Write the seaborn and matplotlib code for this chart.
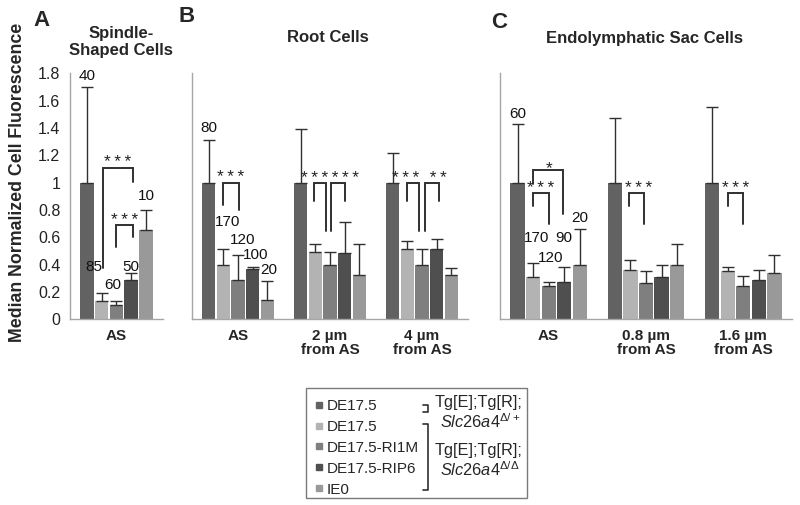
import numpy as np
import pandas as pd
import seaborn as sns
import matplotlib.pyplot as plt
from matplotlib.lines import Line2D
from matplotlib.patches import Rectangle

sns.set_theme(style="white")
plt.rcParams['font.family'] = ['Liberation Sans', 'DejaVu Sans']
plt.rcParams['mathtext.fontset'] = 'custom'
plt.rcParams['mathtext.it'] = 'Liberation Sans:italic'
plt.rcParams['mathtext.rm'] = 'Liberation Sans'

# Data
genotypes = ["het DE17.5", "DE17.5", "DE17.5-RI1M", "DE17.5-RIP6", "IE0"]
legend_labels = ["DE17.5", "DE17.5", "DE17.5-RI1M", "DE17.5-RIP6", "IE0"]
colors = ["#626262", "#b3b3b3", "#7f7f7f", "#4f4f4f", "#999999"]

spindle_locs = ["AS"]
spindle_vals = [[1.0, 0.13, 0.10, 0.29, 0.65]]
spindle_errs = [[0.70, 0.06, 0.03, 0.05, 0.15]]
spindle_n = [40, 85, 60, 50, 10]

root_locs = ["AS", "2 µm\nfrom AS", "4 µm\nfrom AS"]
root_vals = [[1.0, 0.40, 0.29, 0.37, 0.14],
             [1.0, 0.49, 0.40, 0.485, 0.32],
             [1.0, 0.51, 0.40, 0.51, 0.32]]
root_errs = [[0.31, 0.11, 0.18, 0.015, 0.14],
             [0.39, 0.06, 0.09, 0.225, 0.23],
             [0.215, 0.06, 0.11, 0.075, 0.055]]
root_n = [80, 170, 120, 100, 20]

sac_locs = ["AS", "0.8 µm\nfrom AS", "1.6 µm\nfrom AS"]
sac_vals = [[1.0, 0.31, 0.24, 0.27, 0.40],
            [1.0, 0.36, 0.265, 0.31, 0.40],
            [1.0, 0.35, 0.245, 0.29, 0.34]]
sac_errs = [[0.43, 0.10, 0.03, 0.11, 0.26],
            [0.475, 0.07, 0.09, 0.085, 0.15],
            [0.55, 0.03, 0.07, 0.07, 0.13]]
sac_n = [60, 170, 120, 90, 20]

spindle_stars = ["***", "***"]
root_stars = ["***", "******", "*** **"]
sac_stars = ["*", "***", "***", "***"]


def make_df(locs, vals, errs):
    rows = []
    for i, loc in enumerate(locs):
        for k, g in enumerate(genotypes):
            rows.append({"location": loc, "genotype": g,
                         "value": vals[i][k], "err": errs[i][k]})
    return pd.DataFrame(rows)


def spaced(s):
    # thin space between asterisks, plain space stays a gap
    return "\u2009".join(s).replace("\u2009 \u2009", "\u2009\u2009\u2009")


fig = plt.figure(figsize=(8, 5.05), dpi=100)

panels = [
    dict(rect=[0.0875, 0.368, 0.116, 0.487], locs=spindle_locs, vals=spindle_vals,
         errs=spindle_errs, n=spindle_n, stars=spindle_stars),
    dict(rect=[0.24, 0.368, 0.345, 0.487], locs=root_locs, vals=root_vals,
         errs=root_errs, n=root_n, stars=root_stars),
    dict(rect=[0.625, 0.368, 0.365, 0.487], locs=sac_locs, vals=sac_vals,
         errs=sac_errs, n=sac_n, stars=sac_stars),
]

# n-label placement (bar index, x nudge, y)
n_pos = [
    [(0, 0.0, 1.78), (1, -0.086, 0.385), (2, -0.04, 0.25), (3, 0.0, 0.385), (4, 0.0, 0.90)],
    [(0, 0.0, 1.40), (1, 0.05, 0.71), (2, 0.05, 0.58), (3, 0.03, 0.47), (4, 0.01, 0.36)],
    [(0, 0.0, 1.50), (1, 0.04, 0.596), (2, 0.02, 0.45), (3, 0.0, 0.596), (4, 0.0, 0.743)],
]

# brackets: (group, barL, barR, nudgeL, nudgeR, top, bottomL, bottomR)
brackets = [
    [(0, 1, 3, 0.018, 0.018, 1.105, 0.373, 1.007),
     (0, 2, 3, 0.0, 0.018, 0.69, 0.527, 0.60)],
    [(0, 1, 2, 0.0, 0.01, 1.0, 0.837, 0.80),
     (1, 1, 2, -0.015, -0.04, 1.0, 0.866, 0.646),
     (1, 2, 3, 0.015, 0.0, 1.0, 0.646, 0.866),
     (2, 1, 2, 0.0, -0.03, 1.0, 0.866, 0.646),
     (2, 2, 3, 0.03, 0.02, 1.0, 0.646, 0.866)],
    [(0, 1, 3, 0.0, -0.01, 1.09, 0.988, 0.767),
     (0, 1, 2, 0.0, 0.0, 0.92, 0.83, 0.694),
     (1, 1, 2, -0.01, -0.02, 0.92, 0.83, 0.694),
     (2, 1, 2, 0.0, 0.0, 0.92, 0.83, 0.694)],
]

# star label placement (group, x offset from group centre, glyph centre y)
star_pos = [
    [(0, 0.018, 1.185), (0, 0.09, 0.765)],
    [(0, -0.08, 1.075), (1, 0.0, 1.07), (2, -0.03, 1.07)],
    [(0, 0.0, 1.143), (0, -0.08, 0.995), (1, -0.08, 0.995), (2, -0.08, 0.995)],
]

axis_gray = "#a6a6a6"
line_dark = "#303030"
star_size = 12.5
star_drop = 0.073  # asterisk centre above baseline, in data units

for p_i, p in enumerate(panels):
    ax = fig.add_axes(p["rect"])
    df = make_df(p["locs"], p["vals"], p["errs"])
    sns.barplot(data=df, x="location", y="value", hue="genotype",
                hue_order=genotypes, palette=colors, order=p["locs"],
                errorbar=None, legend=False, gap=0.08, ax=ax,
                edgecolor="none", linewidth=0)
    bar_conts = list(ax.containers)
    # upper-only error bars on the bars seaborn drew
    centers = {}
    for k, cont in enumerate(bar_conts):
        for i, bar in enumerate(cont):
            cx = bar.get_x() + bar.get_width() / 2
            h = bar.get_height()
            centers[(i, k)] = cx
            e = p["errs"][i][k]
            ax.errorbar(cx, h, yerr=[[0], [e]], fmt="none", ecolor=line_dark,
                        elinewidth=1.0, capsize=4, capthick=1.0, zorder=3)
    # n labels on first group
    for k, dx, y in n_pos[p_i]:
        ax.text(centers[(0, k)] + dx, y, str(p["n"][k]), ha="center", va="center",
                fontsize=11, color="#111111", zorder=5)
    # significance brackets
    for g, bl, br, nl, nr, top, bot_l, bot_r in brackets[p_i]:
        xl = centers[(g, bl)] + nl
        xr = centers[(g, br)] + nr
        ax.plot([xl, xl, xr, xr], [bot_l, top, top, bot_r], color=line_dark,
                lw=1.4, solid_joinstyle="miter", zorder=4)
    for (g, dx, y), s in zip(star_pos[p_i], p["stars"]):
        ax.text(centers[(g, 2)] + dx, y - star_drop, spaced(s), ha="center",
                va="baseline", fontsize=star_size, color="#222222", zorder=5)

    ax.set_ylim(0, 1.8)
    ax.set_xlim(-0.5, len(p["locs"]) - 0.5)
    ax.set_yticks(np.arange(0, 1.81, 0.2))
    if p_i == 0:
        ax.set_yticklabels(["0", "0.2", "0.4", "0.6", "0.8", "1", "1.2", "1.4", "1.6", "1.8"],
                           fontsize=11.5, color="#222222")
    else:
        ax.set_yticklabels([])
    ax.set_ylabel("")
    ax.set_xlabel("")
    ax.set_xticks(range(len(p["locs"])))
    ax.set_xticklabels(p["locs"], fontsize=11, fontweight="bold", linespacing=1.05)
    ax.set_xticks(np.arange(-0.5, len(p["locs"]), 1.0), minor=True)
    ax.tick_params(axis="x", which="major", length=0, pad=7)
    ax.tick_params(axis="x", which="minor", length=5, color=axis_gray, direction="out")
    ax.tick_params(axis="y", length=4, color=axis_gray, direction="out", pad=3)
    for s in ["top", "right"]:
        ax.spines[s].set_visible(False)
    for s in ["left", "bottom"]:
        ax.spines[s].set_color(axis_gray)
        ax.spines[s].set_linewidth(1.0)


def fx(px):
    return px / 800


def fy(py):
    return 1 - py / 505


fig.text(fx(18), fy(182), "Median Normalized Cell Fluorescence", rotation=90,
         fontsize=12.8, fontweight="bold", ha="center", va="center")

# panel letters and titles
fig.text(fx(42), fy(20), "A", fontsize=16, fontweight="bold", ha="center", va="center")
fig.text(fx(121), fy(42), "Spindle-\nShaped Cells", fontsize=12, fontweight="bold",
         ha="center", va="center", linespacing=1.1)
fig.text(fx(187), fy(17), "B", fontsize=16, fontweight="bold", ha="center", va="center")
fig.text(fx(328), fy(38), "Root Cells", fontsize=12, fontweight="bold",
         ha="center", va="center")
fig.text(fx(499), fy(22), "C", fontsize=16, fontweight="bold", ha="center", va="center")
fig.text(fx(645), fy(38), "Endolymphatic Sac Cells", fontsize=12, fontweight="bold",
         ha="center", va="center")

# legend
fig.add_artist(Rectangle((fx(306), fy(498)), fx(527) - fx(306), fy(388) - fy(498),
                         transform=fig.transFigure, fill=False, ec="#7a7a7a", lw=1.0))
handles = [Line2D([], [], marker="s", linestyle="none", markersize=4.5,
                  markerfacecolor=c, markeredgecolor=c) for c in colors]
fig.legend(handles, legend_labels, loc="upper left",
           bbox_to_anchor=(fx(314), fy(399)), frameon=False, fontsize=11,
           handlelength=0.7, handletextpad=0.15, labelspacing=0.45,
           borderaxespad=0, borderpad=0)
fig.text(fx(479), fy(403), "Tg[E];Tg[R];", fontsize=11.8, ha="center", va="center")
fig.text(fx(480), fy(422), r"$\mathit{Slc26a4}^{\Delta/+}$", fontsize=11.8,
         ha="center", va="center")
fig.text(fx(479), fy(451), "Tg[E];Tg[R];", fontsize=11.8, ha="center", va="center")
fig.text(fx(480), fy(470), r"$\mathit{Slc26a4}^{\Delta/\Delta}$", fontsize=11.8,
         ha="center", va="center")
for y0, y1 in [(405, 412), (424, 490)]:
    fig.add_artist(Line2D([fx(423), fx(428), fx(428), fx(423)],
                          [fy(y0), fy(y0), fy(y1), fy(y1)],
                          transform=fig.transFigure, color=line_dark, lw=1.2))

fig.savefig("out.png", dpi=100)
